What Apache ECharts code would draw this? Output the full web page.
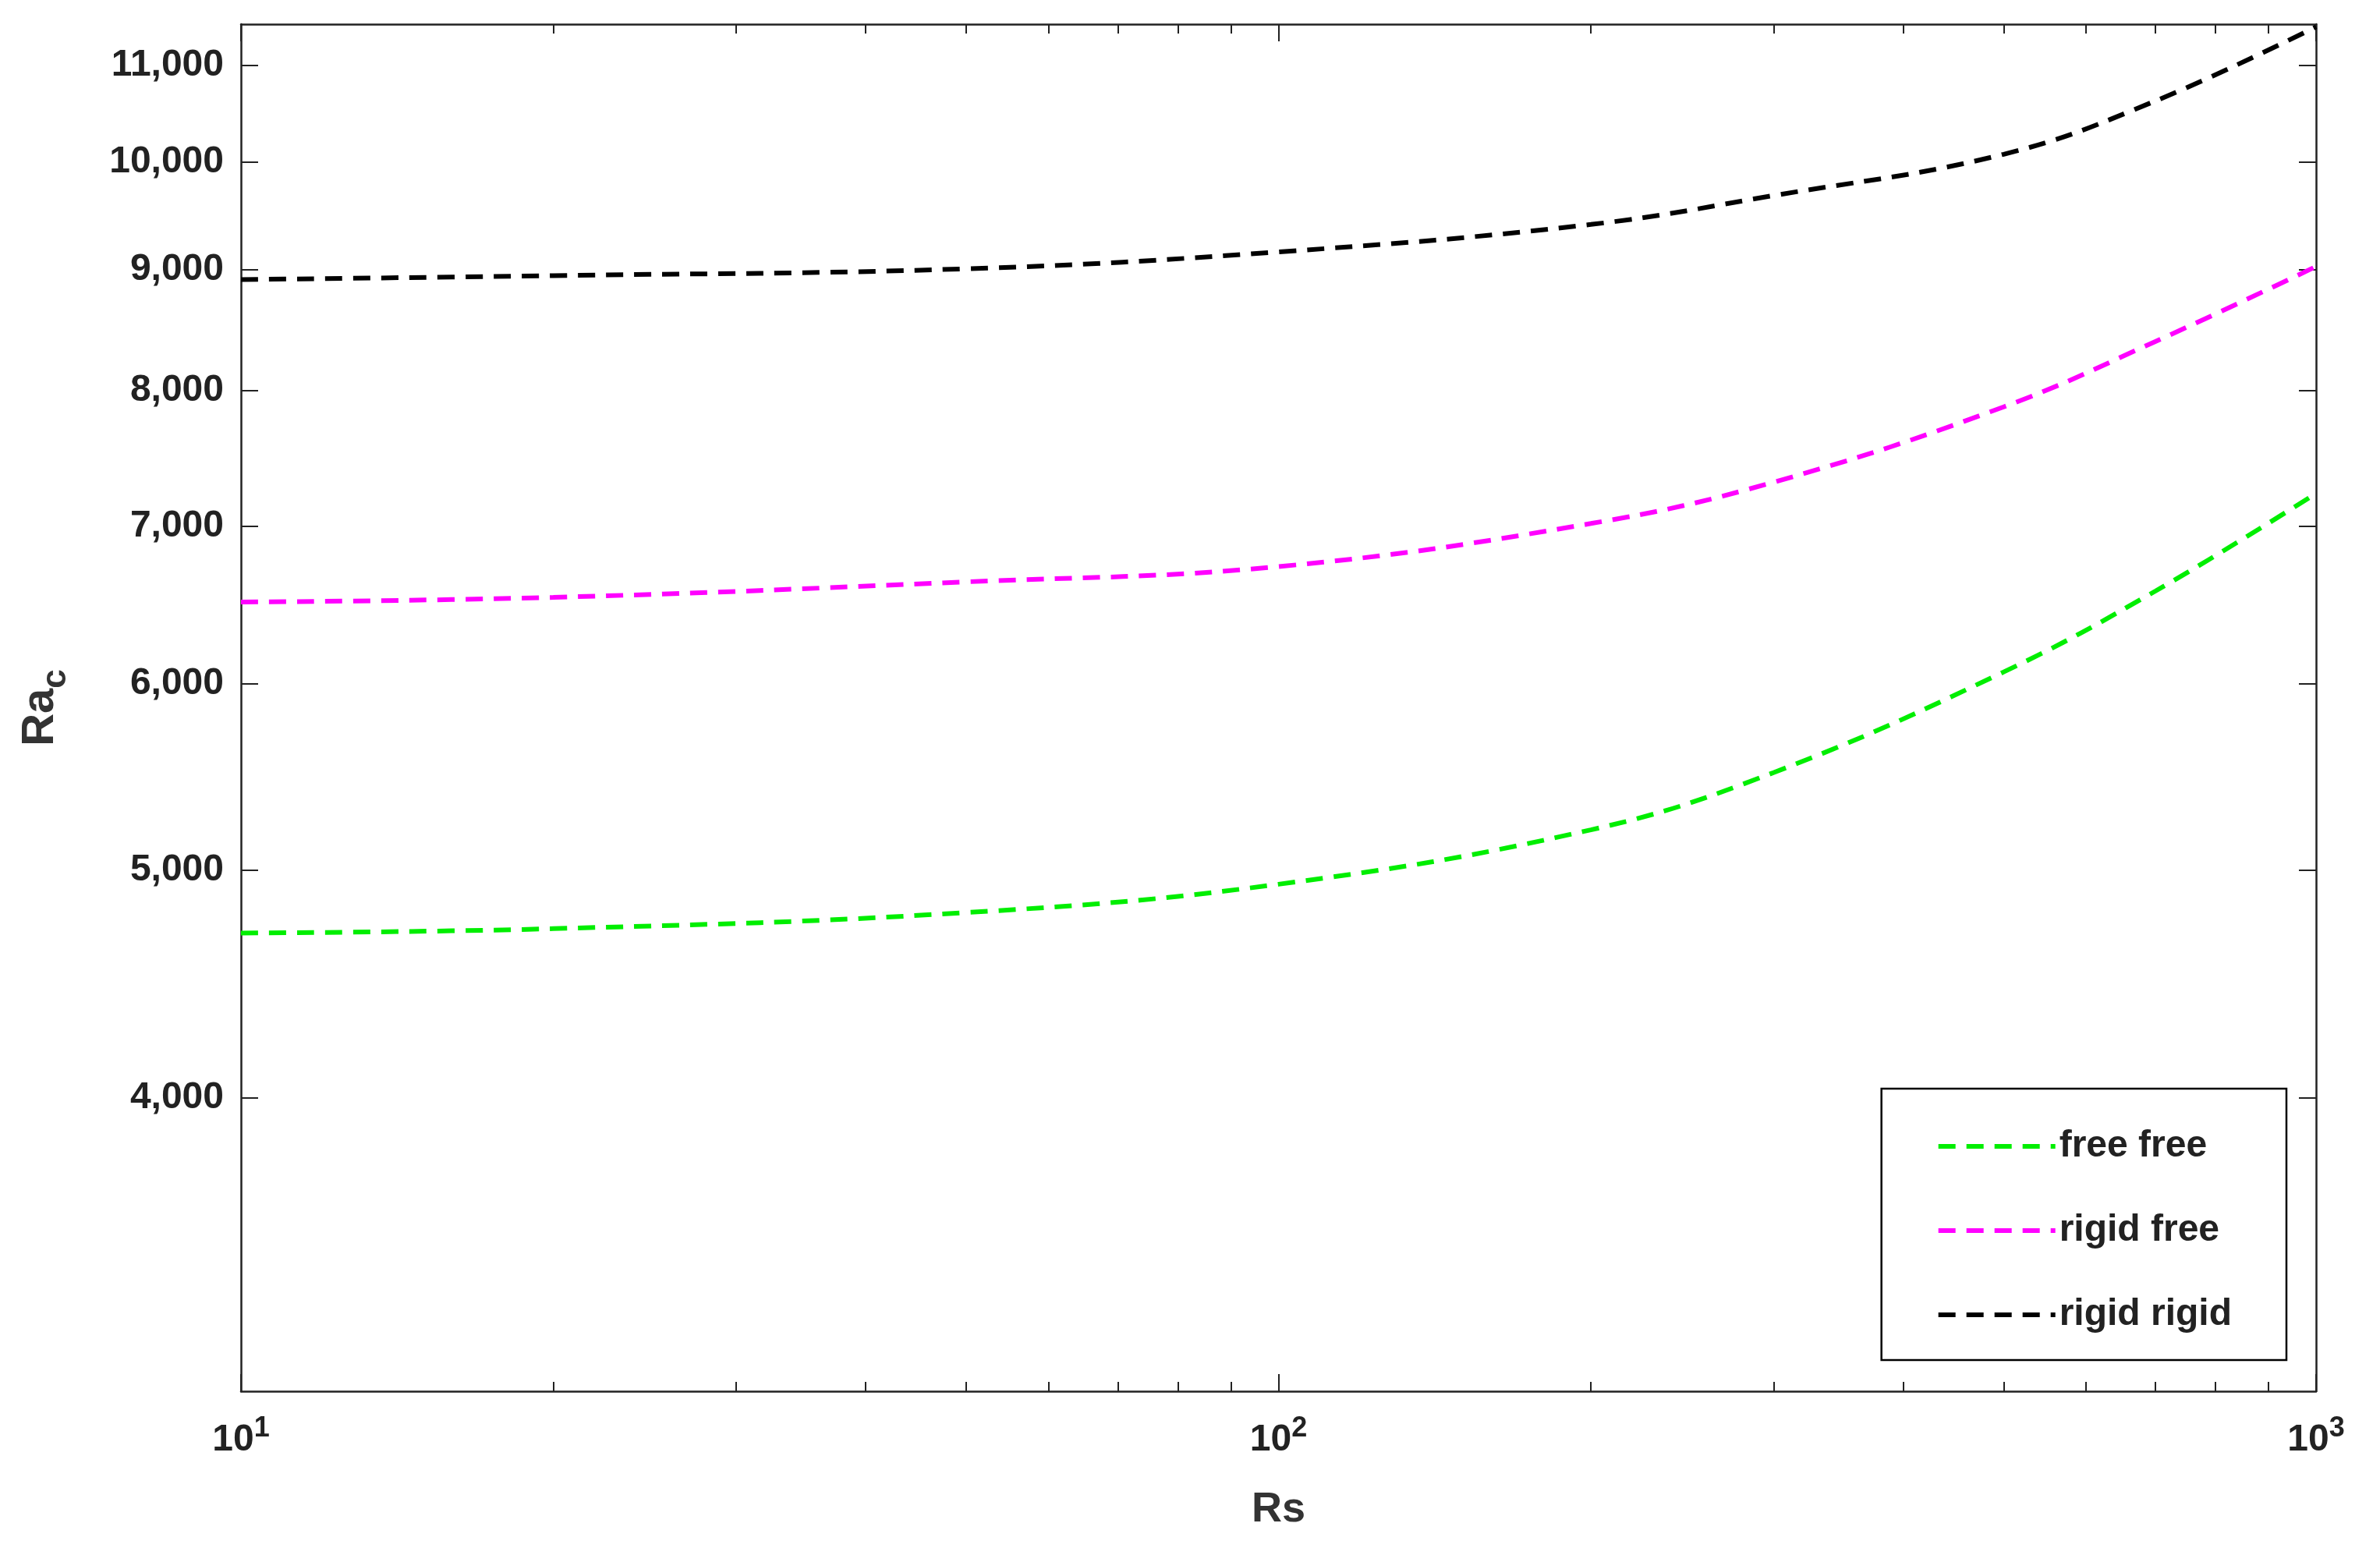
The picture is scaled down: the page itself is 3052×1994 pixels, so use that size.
<!DOCTYPE html>
<html lang="en">
<head>
<meta charset="UTF-8">
<title>Ra_c vs Rs</title>
<script src="https://cdn.jsdelivr.net/npm/echarts@6/dist/echarts.min.js"></script>
<style>html,body{margin:0;background:#fff}#main{width:3052px;height:1994px}</style>
</head>
<body>
<div id="main"></div>
<script type="text/javascript">
var rs = [10, 20, 50, 100, 200, 300, 500, 700, 1000];
var freeFree = [4700, 4720, 4795, 4930, 5200, 5500, 6070, 6570, 7230];
var rigidFree = [6500, 6530, 6630, 6730, 7020, 7310, 7870, 8390, 9030];
var rigidRigid = [8915, 8950, 9010, 9160, 9410, 9680, 10080, 10620, 11420];
var yTicks = [4000, 5000, 6000, 7000, 8000, 9000, 10000, 11000];

function pairs(ys) {
    return rs.map(function (x, i) { return [x, ys[i]]; });
}

var myChart = echarts.init(document.getElementById('main'));
var font = 'Liberation Sans';
var axisLine = {lineStyle: {color: '#222', width: 2.5}};
var dash = {width: 6, type: [22, 14]};

var option = {
    backgroundColor: '#ffffff',
    textStyle: {fontFamily: font},
    grid: {left: 309, right: 82, top: 31, bottom: 210},
    legend: {
        right: 120, bottom: 250,
        orient: 'vertical',
        padding: [50, 70, 34, 70],
        itemGap: 60,
        itemWidth: 150, itemHeight: 20,
        borderColor: '#000', borderWidth: 2.5,
        itemStyle: {opacity: 0},
        lineStyle: dash,
        textStyle: {fontSize: 48, fontWeight: 'bold', color: '#222'},
        data: ['free free', 'rigid free', 'rigid rigid']
    },
    xAxis: [{
        type: 'log', logBase: 10, min: 10, max: 1000,
        name: 'Rs', nameLocation: 'middle', nameGap: 125,
        nameTextStyle: {fontSize: 54, fontWeight: 'bold', color: '#333'},
        axisLine: axisLine,
        axisTick: {inside: true, length: 22, lineStyle: {color: '#222', width: 2}},
        minorTick: {show: true, splitNumber: 9, length: 12, lineStyle: {color: '#222', width: 2}},
        splitLine: {show: false},
        axisLabel: {
            margin: 30,
            formatter: function (v) { return '{b|10}{s|' + Math.round(Math.log10(v)) + '}'; },
            rich: {
                b: {fontSize: 48, fontWeight: 'bold', color: '#222'},
                s: {fontSize: 36, fontWeight: 'bold', color: '#222', verticalAlign: 'top', padding: [0, 0, 30, 0]}
            }
        }
    }, {
        type: 'log', logBase: 10, min: 10, max: 1000, position: 'top',
        axisLine: axisLine,
        axisTick: {inside: true, length: 22, lineStyle: {color: '#222', width: 2}},
        minorTick: {show: true, splitNumber: 9, length: 12, lineStyle: {color: '#222', width: 2}},
        axisLabel: {show: false}, splitLine: {show: false}
    }],
    yAxis: [{
        type: 'log', logBase: 10, min: 3000, max: 11450,
        name: 'Ra{sub|c}', nameLocation: 'middle', nameGap: 215, nameRotate: 90,
        nameTextStyle: {
            fontSize: 58, fontWeight: 'bold', color: '#333',
            rich: {sub: {fontSize: 44, fontWeight: 'bold', color: '#333', verticalAlign: 'bottom', padding: [40, 0, 0, 0]}}
        },
        axisLine: axisLine,
        axisTick: {inside: true, length: 22, customValues: yTicks, lineStyle: {color: '#222', width: 2}},
        splitLine: {show: false},
        axisLabel: {
            customValues: yTicks, margin: 22,
            fontSize: 48, fontWeight: 'bold', color: '#222',
            formatter: function (v) { return Math.round(v).toLocaleString('en-US'); }
        }
    }, {
        type: 'log', logBase: 10, min: 3000, max: 11450, position: 'right',
        axisLine: axisLine,
        axisTick: {inside: true, length: 22, customValues: yTicks, lineStyle: {color: '#222', width: 2}},
        axisLabel: {show: false}, splitLine: {show: false}
    }],
    series: [
        {name: 'free free', type: 'line', smooth: 0.4, symbol: 'none', color: '#00ee00',
            lineStyle: dash, data: pairs(freeFree)},
        {name: 'rigid free', type: 'line', smooth: 0.4, symbol: 'none', color: '#ff00ff',
            lineStyle: dash, data: pairs(rigidFree)},
        {name: 'rigid rigid', type: 'line', smooth: 0.4, symbol: 'none', color: '#000000',
            lineStyle: dash, data: pairs(rigidRigid)}
    ]
};

myChart.setOption(option);
</script>
</body>
</html>
